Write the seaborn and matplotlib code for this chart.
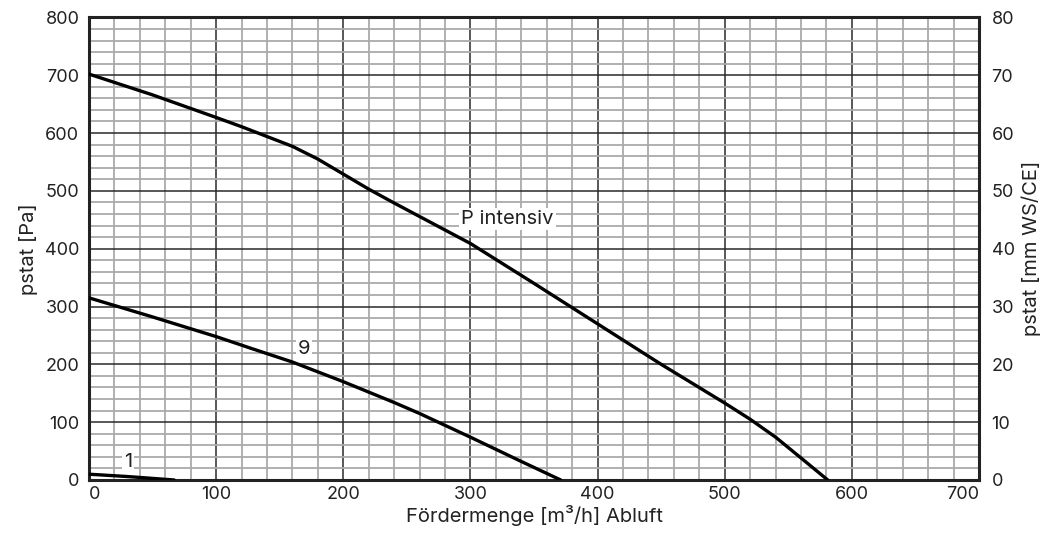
import matplotlib
matplotlib.use("Agg")
import matplotlib.pyplot as plt
import seaborn as sns
import pandas as pd
from matplotlib.ticker import MultipleLocator

# Data
p_int_x = [0, 50, 100, 120, 140, 160, 180, 200, 220, 240, 300, 350, 400, 450, 500, 520, 540, 560, 581]
p_int_y = [702, 666, 627, 611, 594, 577, 555, 529, 503, 479, 409, 340, 270, 200, 133, 105, 74, 38, 0]
s9_x = [0, 50, 100, 127, 160, 200, 240, 260, 300, 320, 340, 371]
s9_y = [315, 282, 248, 228, 204, 170, 134, 115, 74, 53, 32, 0]
s1_x = [0, 30, 67]
s1_y = [10, 6, 0]

labels = ["P intensiv", "9", "1"]
label_x = [329, 169, 31]
label_y = [452, 226, 31]

x_ticks = [0, 100, 200, 300, 400, 500, 600, 700]
y_ticks = [0, 100, 200, 300, 400, 500, 600, 700, 800]
y2_ticks = [0, 10, 20, 30, 40, 50, 60, 70, 80]

sns.set_style("white")
plt.rcParams['font.family'] = ['Inter', 'DejaVu Sans']
FS = 13
FL = 14.5
TXT = '#222222'

df = pd.concat([
    pd.DataFrame({"x": p_int_x, "y": p_int_y, "s": "P intensiv"}),
    pd.DataFrame({"x": s9_x, "y": s9_y, "s": "9"}),
    pd.DataFrame({"x": s1_x, "y": s1_y, "s": "1"}),
])

fig = plt.figure(figsize=(10.41, 5.36), dpi=100)
ax = fig.add_axes([0.0855, 0.1045, 0.855, 0.863])

ax.set_xlim(0, 700)
ax.set_ylim(0, 800)
ax.xaxis.set_major_locator(MultipleLocator(100))
ax.xaxis.set_minor_locator(MultipleLocator(20))
ax.yaxis.set_major_locator(MultipleLocator(100))
ax.yaxis.set_minor_locator(MultipleLocator(20))
ax.grid(which='minor', color='#aaaaaa', linewidth=1.3, zorder=0)
ax.grid(which='major', color='#2a2a2a', linewidth=1.1, zorder=0)
ax.set_axisbelow(True)

sns.lineplot(data=df, x="x", y="y", units="s", estimator=None, color="black",
             linewidth=2.4, ax=ax, sort=False, zorder=3)

for t, lx, ly in zip(labels, label_x, label_y):
    ax.text(lx, ly, t, fontsize=FL, ha='center', va='center', color=TXT,
            bbox=dict(facecolor='white', edgecolor='none', pad=1.5), zorder=4)

ax.set_xticks(x_ticks)
ax.set_yticks(y_ticks)
ax.tick_params(axis='both', which='both', length=0, labelsize=FS, colors=TXT, pad=7)
ax.tick_params(axis='x', pad=4)
ax.set_xlabel("Fördermenge [m³/h] Abluft", fontsize=FL, color=TXT, labelpad=2)
ax.set_ylabel("pstat [Pa]", fontsize=FL, color=TXT, labelpad=5)
for sp in ax.spines.values():
    sp.set_color('#222222')
    sp.set_linewidth(2.2)
    sp.set_visible(True)

ax2 = ax.twinx()
ax2.set_ylim(0, 80)
ax2.set_yticks(y2_ticks)
ax2.tick_params(axis='y', length=0, labelsize=FS, colors=TXT, pad=9)
ax2.set_ylabel("pstat [mm WS/CE]", fontsize=FL, color=TXT, labelpad=5)
for sp in ax2.spines.values():
    sp.set_visible(False)

fig.canvas.draw()
xt = ax.xaxis.get_major_ticks()
xt[0].label1.set_horizontalalignment('left')
xt[-1].label1.set_horizontalalignment('right')

fig.savefig("out.png", dpi=100)
